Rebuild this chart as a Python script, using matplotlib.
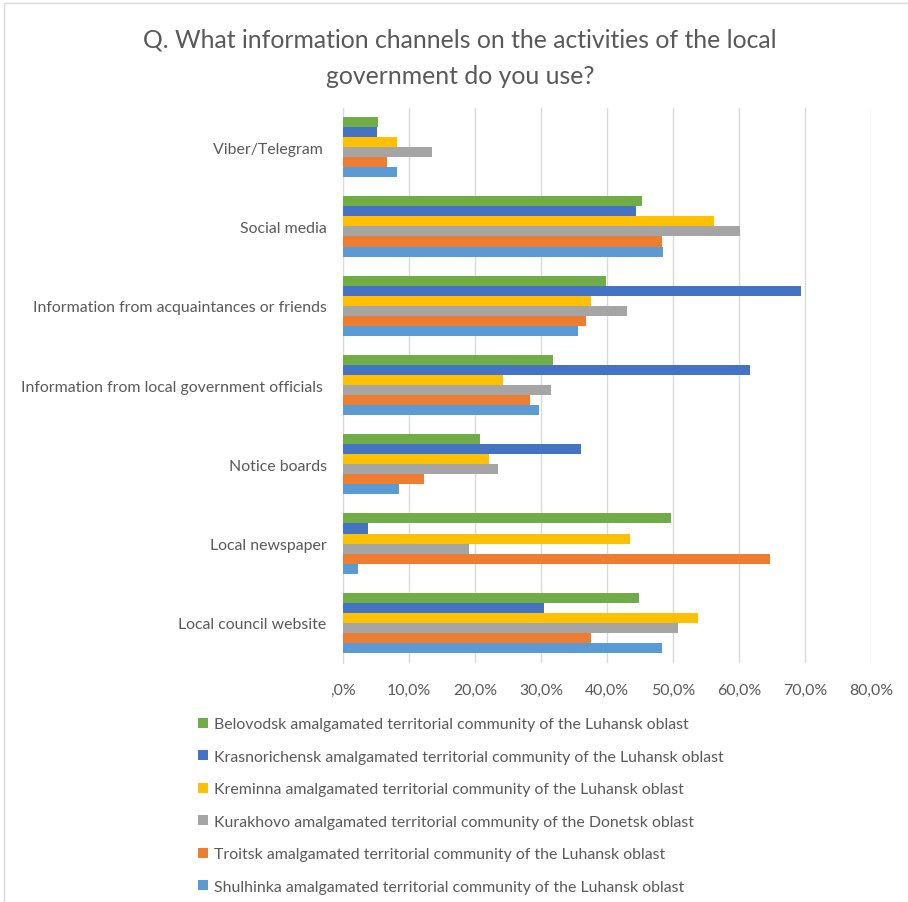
import matplotlib.pyplot as plt
import numpy as np
from matplotlib.patches import Patch, Rectangle
from matplotlib.ticker import FixedLocator, FuncFormatter

plt.rcParams['font.family'] = ['Lato', 'DejaVu Sans']

categories = ['Viber/Telegram ', 'Social media', 'Information from acquaintances or friends',
              'Information from local government officials ', 'Notice boards',
              'Local newspaper', 'Local council website']
series_names = ['Belovodsk amalgamated territorial community of the Luhansk oblast',
                'Krasnorichensk amalgamated territorial community of the Luhansk oblast',
                'Kreminna amalgamated territorial community of the Luhansk oblast',
                'Kurakhovo amalgamated territorial community of the Donetsk oblast',
                'Troitsk amalgamated territorial community of the Luhansk oblast',
                'Shulhinka amalgamated territorial community of the Luhansk oblast']
colors = ['#70AD47', '#4472C4', '#FFC000', '#A5A5A5', '#ED7D31', '#5B9BD5']

belovodsk = [5.2, 45.2, 39.8, 31.8, 20.7, 49.7, 44.8]
krasnorichensk = [5.1, 44.3, 69.3, 61.6, 36.0, 3.7, 30.4]
kreminna = [8.2, 56.1, 37.5, 24.2, 22.0, 43.5, 53.8]
kurakhovo = [13.4, 60.1, 43.0, 31.5, 23.4, 19.0, 50.7]
troitsk = [6.6, 48.3, 36.7, 28.3, 12.2, 64.6, 37.5]
shulhinka = [8.2, 48.5, 35.5, 29.7, 8.5, 2.3, 48.3]
values = [belovodsk, krasnorichensk, kreminna, kurakhovo, troitsk, shulhinka]

txt = '#595959'
fs = 11.4
fig = plt.figure(figsize=(9.08, 9.03), dpi=100)
ax = fig.add_axes([343.3 / 908, 1 - 663.5 / 903, 528 / 908, 555 / 903])

y = np.arange(len(categories))
h = 0.127
for j, vals in enumerate(values):
    ax.barh(y + (j - 2.5) * h, np.array(vals) / 100, height=h, color=colors[j],
            label=series_names[j], zorder=3)

ax.set_xlim(0, 0.8)
ax.set_ylim(6.5, -0.5)
ax.xaxis.set_major_locator(FixedLocator(np.arange(0, 0.81, 0.1)))
ax.xaxis.set_major_formatter(FuncFormatter(
    lambda v, p: ',0%' if v == 0 else ('%.1f%%' % (v * 100)).replace('.', ',')))
ax.set_yticks(y)
ax.set_yticklabels(categories)
ax.tick_params(axis='x', length=0, pad=15, labelsize=fs, labelcolor=txt)
ax.tick_params(axis='y', length=0, pad=12, labelsize=fs, labelcolor=txt)
ax.grid(axis='x', color='#d9d9d9', linewidth=1, zorder=0)
for s in ['top', 'right', 'bottom']:
    ax.spines[s].set_visible(False)
ax.spines['left'].set_color('#d9d9d9')

fig.text(460 / 908, 1 - 40 / 903, 'Q. What information channels on the activities of the local',
         ha='center', va='center', fontsize=17.8, color=txt)
fig.text(460 / 908, 1 - 76 / 903, 'government do you use?',
         ha='center', va='center', fontsize=17.8, color=txt)

handles = [Patch(facecolor=c, edgecolor='none') for c in colors]
fig.legend(handles, series_names, loc='upper left', bbox_to_anchor=(192 / 908, 1 - 712 / 903),
           frameon=False, fontsize=fs, labelcolor=txt, handlelength=0.6, handleheight=0.6,
           handletextpad=0.4, labelspacing=1.17, borderaxespad=0)

fig.add_artist(Rectangle((4 / 908, -0.1), 1.2, 1.1 - 4 / 903, transform=fig.transFigure,
                         fill=False, edgecolor='#d9d9d9', linewidth=1))

fig.savefig('out.png', dpi=100)
